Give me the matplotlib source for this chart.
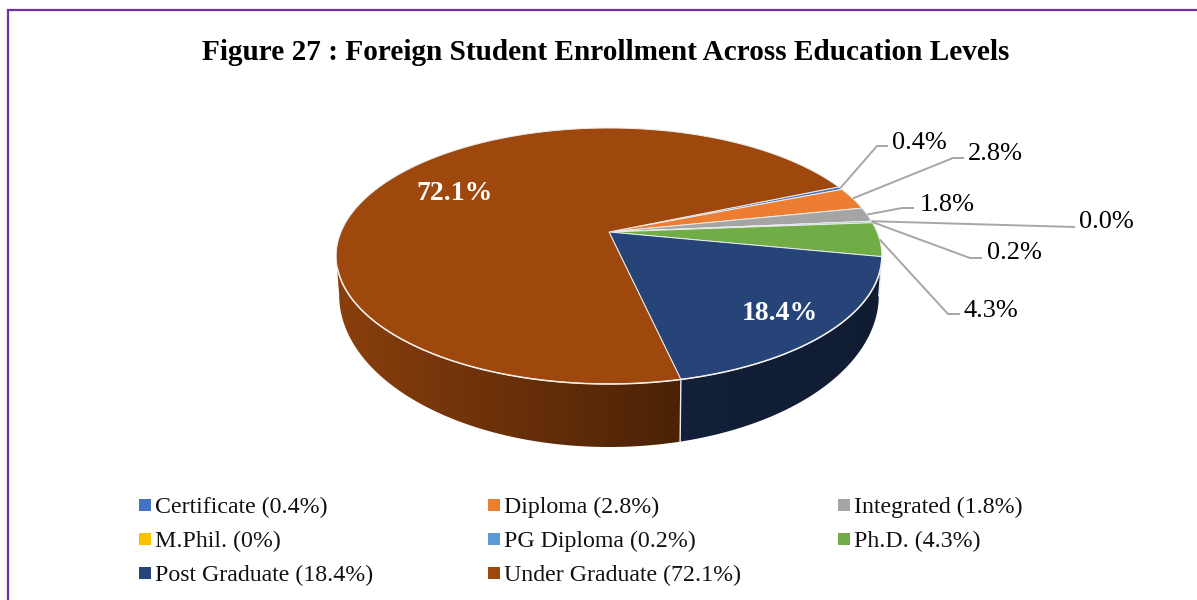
import numpy as np
import matplotlib
matplotlib.use("Agg")
import matplotlib.pyplot as plt
from matplotlib.colors import to_rgb
from matplotlib.patches import Polygon, Rectangle

plt.rcParams["font.family"] = ["Liberation Serif", "DejaVu Serif"]

levels = ["Certificate", "Diploma", "Integrated", "M.Phil.", "PG Diploma", "Ph.D.", "Post Graduate", "Under Graduate"]
shares = [0.4, 2.8, 1.8, 0.0, 0.2, 4.3, 18.4, 72.1]
legend_texts = ["Certificate (0.4%)", "Diploma (2.8%)", "Integrated (1.8%)", "M.Phil. (0%)",
                "PG Diploma (0.2%)", "Ph.D. (4.3%)", "Post Graduate (18.4%)", "Under Graduate (72.1%)"]
data_labels = ["0.4%", "2.8%", "1.8%", "0.0%", "0.2%", "4.3%", "18.4%", "72.1%"]
colors = ["#4472C4", "#ED7D31", "#A5A5A5", "#FFC000", "#5B9BD5", "#70AD47", "#264478", "#9E480E"]

# pie geometry in pixels
CX, CY = 609, 232
A, B, P = 268, 123.5, 0.1875
START = 66.9
WALL_SX, WALL_SY, WALL_Y = 0.989, 1.1875, 295
EDGE = "#ECECEC"
LEADER = "#A6A6A6"


def top_xy(t):
    # t is degrees clockwise from the back of the pie
    r = np.radians(t)
    w = 1 + P * np.cos(r)
    return CX + A * np.sin(r) / w, CY - B * np.cos(r) / w


def bottom_xy(t):
    x, y = top_xy(t)
    return CX + (x - CX) * WALL_SX, WALL_Y + (y - 256) * WALL_SY


def arc(fn, t0, t1, n=120):
    x, y = fn(np.linspace(t0, t1, n))
    return np.column_stack([x, y])


fig = plt.figure(figsize=(11.97, 6), dpi=100)
ax = fig.add_axes([0, 0, 1, 1])
ax.set_axis_off()

edges = START + np.concatenate([[0], np.cumsum(shares)]) * 3.6

# side walls, only the near part of the pie is seen
near0, near1 = 100.8, 259.2
for i, c in enumerate(colors):
    t0, t1 = max(edges[i], near0), min(edges[i + 1], near1)
    if t1 <= t0:
        continue
    wall = np.vstack([arc(top_xy, t0, t1), arc(bottom_xy, t1, t0)])
    xs = np.linspace(330, 890, 140)
    shade = np.interp(xs, [336, 680, 880], [0.87, 0.47, 0.42])
    img = np.outer(shade, to_rgb(c)).reshape(1, -1, 3)
    im = ax.imshow(img, extent=[330, 890, 460, 240], aspect="auto", interpolation="bilinear", zorder=1)
    im.set_clip_path(Polygon(wall, transform=ax.transData))
    if t1 < near1:
        ax.plot(*np.array([top_xy(t1), bottom_xy(t1)]).T, color=EDGE, lw=1, zorder=2)

# top face
for i, c in enumerate(colors):
    face = np.vstack([[CX, CY], arc(top_xy, edges[i], edges[i + 1])])
    ax.add_patch(Polygon(face, closed=True, facecolor=c, edgecolor=EDGE, lw=0.7, zorder=3))
rim = arc(top_xy, near0, near1 - 6, 200)
ax.plot(rim[:, 0], rim[:, 1], color="#F4F0EC", lw=1.1, zorder=3.5)

# inside labels
ax.text(455, 194, data_labels[7], color="white", fontsize=20, fontweight="bold", ha="center", va="center", zorder=5)
ax.text(780, 313, data_labels[6], color="white", fontsize=20, fontweight="bold", ha="center", va="center", zorder=5)

# outside labels: text baseline position, then end of the leader line
label_pos = [(892, 149), (968, 160), (920, 211), (1079, 228), (987, 259), (964, 317)]
leader_end = [(888, 146), (964, 158), (914, 208), (1075, 227), (982, 258), (960, 314)]
leader_run = [11, 11, 12, 1, 12, 12]
for i in range(6):
    sx, sy = top_xy((edges[i] + edges[i + 1]) / 2)
    ex, ey = leader_end[i]
    ax.plot([sx, ex - leader_run[i], ex], [sy, ey, ey], color=LEADER, lw=1.4, zorder=4, solid_capstyle="butt")
    ax.text(label_pos[i][0], label_pos[i][1], data_labels[i], fontsize=19, color="black", ha="left", va="baseline", zorder=5)

# title
ax.text(605.5, 53, "Figure 27 : Foreign Student Enrollment Across Education Levels",
        fontsize=21.07, fontweight="bold", ha="center", va="center", color="black")

# legend
col_x = [139, 488, 838]
row_y = [505, 539, 573]
for i, txt in enumerate(legend_texts):
    x, y = col_x[i % 3], row_y[i // 3]
    ax.add_patch(Rectangle((x, y - 6), 12, 12, facecolor=colors[i], edgecolor="none"))
    ax.text(x + 16, y + 8, txt, fontsize=17.2, ha="left", va="baseline", color="#111111")

# chart frame
ax.plot([8.2, 8.2, 1197], [600, 10, 10], color="#7030A0", lw=1.6, solid_joinstyle="miter")

ax.set_xlim(0, 1197)
ax.set_ylim(600, 0)
fig.savefig("out.png", dpi=100)
